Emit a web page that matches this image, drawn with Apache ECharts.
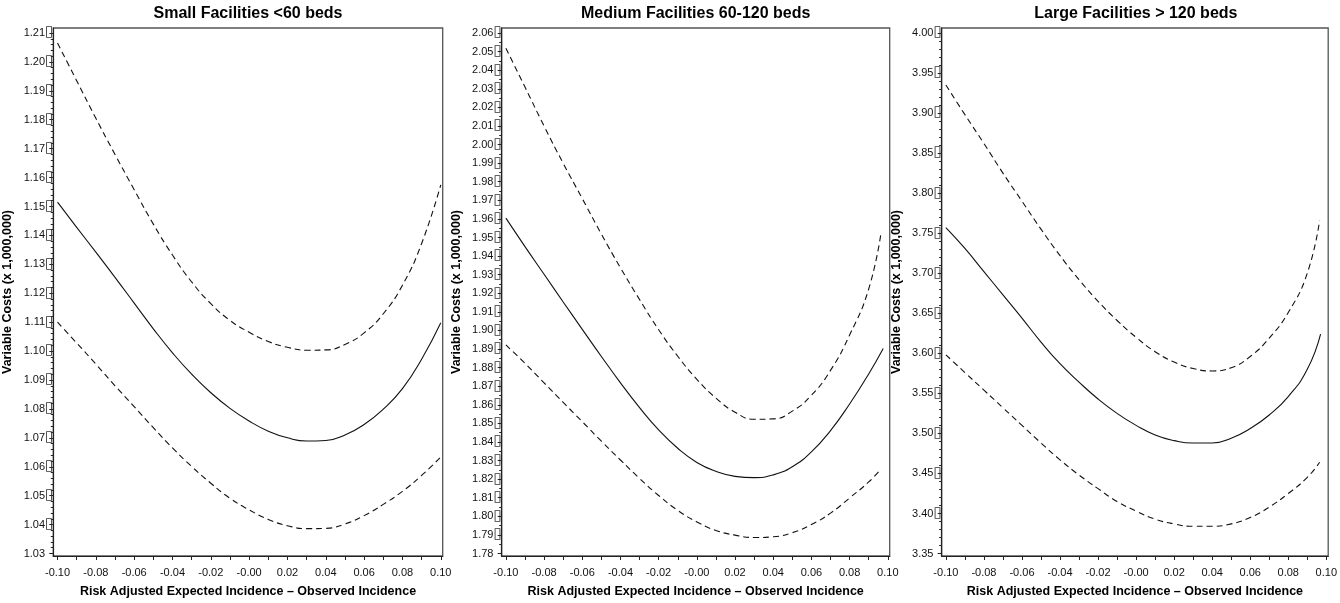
<!DOCTYPE html>
<html><head><meta charset="utf-8">
<script src="https://cdn.jsdelivr.net/npm/echarts@6/dist/echarts.min.js"></script>
<style>html,body{margin:0;padding:0;background:#fff}#c{width:1340px;height:603px}</style>
</head><body><div id="c"></div>
<script>
// ---------- text ----------
const panelTitles = ['Small Facilities <60 beds', 'Medium Facilities 60-120 beds', 'Large Facilities > 120 beds'];
const xAxisTitle = 'Risk Adjusted Expected Incidence \u2013 Observed Incidence';
const yAxisTitle = 'Variable Costs (x 1,000,000)';

// ---------- tick labels ----------
const xTickValues = [-0.10, -0.08, -0.06, -0.04, -0.02, 0.00, 0.02, 0.04, 0.06, 0.08, 0.10];
const xTickLabels = ['-0.10', '-0.08', '-0.06', '-0.04', '-0.02', '-0.00', '0.02', '0.04', '0.06', '0.08', '0.10'];
const yTicksSmall = [1.03, 1.04, 1.05, 1.06, 1.07, 1.08, 1.09, 1.10, 1.11, 1.12, 1.13, 1.14, 1.15, 1.16, 1.17, 1.18, 1.19, 1.20, 1.21];
const yTicksMedium = [1.78, 1.79, 1.80, 1.81, 1.82, 1.83, 1.84, 1.85, 1.86, 1.87, 1.88, 1.89, 1.90, 1.91, 1.92, 1.93, 1.94, 1.95, 1.96, 1.97, 1.98, 1.99, 2.00, 2.01, 2.02, 2.03, 2.04, 2.05, 2.06];
const yTicksLarge = [3.35, 3.40, 3.45, 3.50, 3.55, 3.60, 3.65, 3.70, 3.75, 3.80, 3.85, 3.90, 3.95, 4.00];

// ---------- data: small facilities ----------
const xSmall = [-0.10, -0.09, -0.08, -0.07, -0.06, -0.05, -0.04, -0.03, -0.02, -0.01, 0.00, 0.01, 0.02, 0.03, 0.04, 0.05, 0.06, 0.07, 0.08, 0.09, 0.10];
const smallEst = [1.1515, 1.1428, 1.1342, 1.1255, 1.1166, 1.1077, 1.0994, 1.0920, 1.0856, 1.0802, 1.0758, 1.0723, 1.0700, 1.0689, 1.0691, 1.0710, 1.0746, 1.0799, 1.0870, 1.0972, 1.1098];
const smallUpper = [1.2065, 1.1935, 1.1805, 1.1680, 1.1558, 1.1439, 1.1332, 1.1239, 1.1164, 1.1106, 1.1065, 1.1033, 1.1013, 1.1003, 1.1004, 1.1023, 1.1063, 1.1129, 1.1228, 1.1372, 1.1575];
const smallLower = [1.1100, 1.1028, 1.0955, 1.0880, 1.0808, 1.0735, 1.0665, 1.0601, 1.0543, 1.0491, 1.0451, 1.0418, 1.0396, 1.0386, 1.0387, 1.0402, 1.0431, 1.0470, 1.0515, 1.0570, 1.0634];

// ---------- data: medium facilities ----------
const xMediumEst = [-0.10, -0.09, -0.08, -0.07, -0.06, -0.05, -0.04, -0.03, -0.02, -0.01, 0.00, 0.01, 0.02, 0.03, 0.04, 0.05, 0.06, 0.07, 0.08, 0.09, 0.0976];
const xMediumBand = [-0.10, -0.09, -0.08, -0.07, -0.06, -0.05, -0.04, -0.03, -0.02, -0.01, 0.00, 0.01, 0.02, 0.03, 0.04, 0.05, 0.06, 0.07, 0.08, 0.09, 0.0965];
const mediumEst = [1.9604, 1.9451, 1.9302, 1.9153, 1.9006, 1.8860, 1.8718, 1.8585, 1.8465, 1.8366, 1.8290, 1.8242, 1.8215, 1.8208, 1.8223, 1.8267, 1.8347, 1.8461, 1.8604, 1.8766, 1.8903];
const mediumUpper = [2.0518, 2.0309, 2.0099, 1.9899, 1.9709, 1.9518, 1.9337, 1.9166, 1.9004, 1.8861, 1.8737, 1.8636, 1.8560, 1.8522, 1.8524, 1.8566, 1.8651, 1.8785, 1.8975, 1.9223, 1.9528];
const mediumLower = [1.8922, 1.8823, 1.8718, 1.8613, 1.8509, 1.8404, 1.8303, 1.8204, 1.8112, 1.8032, 1.7970, 1.7924, 1.7899, 1.7886, 1.7890, 1.7912, 1.7956, 1.8017, 1.8099, 1.8185, 1.8255];

// ---------- data: large facilities ----------
const xLargeEst = [-0.10, -0.09, -0.08, -0.07, -0.06, -0.05, -0.04, -0.03, -0.02, -0.01, 0.00, 0.01, 0.02, 0.03, 0.04, 0.05, 0.06, 0.07, 0.08, 0.09, 0.097];
const xLargeBand = [-0.10, -0.09, -0.08, -0.07, -0.06, -0.05, -0.04, -0.03, -0.02, -0.01, 0.00, 0.01, 0.02, 0.03, 0.04, 0.05, 0.06, 0.07, 0.08, 0.09, 0.0965];
const largeEst = [3.757, 3.731, 3.702, 3.673, 3.644, 3.614, 3.587, 3.564, 3.543, 3.525, 3.510, 3.498, 3.491, 3.488, 3.488, 3.494, 3.506, 3.523, 3.546, 3.580, 3.624];
const largeUpper = [3.935, 3.898, 3.862, 3.825, 3.790, 3.755, 3.722, 3.692, 3.665, 3.641, 3.620, 3.602, 3.589, 3.581, 3.578, 3.582, 3.596, 3.619, 3.651, 3.700, 3.766];
const largeLower = [3.598, 3.576, 3.554, 3.532, 3.510, 3.488, 3.467, 3.448, 3.431, 3.415, 3.403, 3.393, 3.387, 3.384, 3.384, 3.387, 3.395, 3.408, 3.425, 3.445, 3.464];

// ---------- layout ----------
const panels = [
  {title: panelTitles[0], left: 53.3, width: 389.4, yMin: 1.02914, yMax: 1.21172, ticks: yTicksSmall, minorSplit: 5,
   series: [[xSmall, smallEst, 'solid'], [xSmall, smallUpper, 'dash'], [xSmall, smallLower, 'dash']]},
  {title: panelTitles[1], left: 501.7, width: 388, yMin: 1.77866, yMax: 2.06268, ticks: yTicksMedium, minorSplit: 2,
   series: [[xMediumEst, mediumEst, 'solid'], [xMediumBand, mediumUpper, 'dash'], [xMediumBand, mediumLower, 'dash']]},
  {title: panelTitles[2], left: 941.7, width: 388.3, yMin: 3.34689, yMax: 4.00623, ticks: yTicksLarge, minorSplit: 5,
   series: [[xLargeEst, largeEst, 'solid'], [xLargeBand, largeUpper, 'dash'], [xLargeBand, largeLower, 'dash']]}
];
const GRID_TOP = 28, GRID_H = 529.5;
const X_MIN = -0.1022, X_MAX = 0.1010;
const BOX = '\u25AF';
const tickFont = "'Liberation Sans Narrow', 'Liberation Sans', Arial, sans-serif";
const boldFont = "'Liberation Sans', Arial, Helvetica, sans-serif";

function minorTicks(major, n) {
  const out = [];
  for (let i = 0; i < major.length - 1; i++) {
    const step = (major[i + 1] - major[i]) / n;
    for (let k = 1; k < n; k++) out.push(+(major[i] + k * step).toFixed(5));
  }
  return out;
}
const xMinor = [-0.09, -0.07, -0.05, -0.03, -0.01, 0.01, 0.03, 0.05, 0.07, 0.09];

const option = {
  animation: false,
  backgroundColor: '#fff',
  title: [], grid: [], xAxis: [], yAxis: [], series: []
};

panels.forEach((p, i) => {
  option.title.push({
    text: p.title, left: p.left + p.width / 2, top: 6, padding: 0, textAlign: 'center',
    textStyle: {fontFamily: boldFont, fontWeight: 'bold', fontSize: 16, color: '#000'}
  });
  option.grid.push({
    left: p.left, top: GRID_TOP, width: p.width, height: GRID_H,
    show: true, borderColor: '#555', borderWidth: 1.3, backgroundColor: 'transparent', containLabel: false
  });
  option.xAxis.push({
    type: 'value', gridIndex: i, min: X_MIN, max: X_MAX,
    name: xAxisTitle, nameLocation: 'middle', nameGap: 29,
    nameTextStyle: {fontFamily: boldFont, fontWeight: 'bold', fontSize: 12.5, color: '#000'},
    axisLine: {show: true, onZero: false, lineStyle: {color: '#222', width: 1.2}},
    axisTick: {show: true, length: 4, lineStyle: {color: '#222'}, customValues: xTickValues.concat(xMinor)},
    axisLabel: {show: true, margin: 11, fontFamily: tickFont, fontSize: 11, color: '#111',
      customValues: xTickValues,
      formatter: v => xTickLabels[Math.round((v - xTickValues[0]) / 0.02)]},
    splitLine: {show: false}
  });
  const bottom = p.ticks[0];
  // major axis with labels
  option.yAxis.push({
    type: 'value', gridIndex: i, min: p.yMin, max: p.yMax, position: 'left',
    name: yAxisTitle, nameLocation: 'middle', nameGap: 39,
    nameTextStyle: {fontFamily: boldFont, fontWeight: 'bold', fontSize: 12.5, color: '#000'},
    axisLine: {show: true, onZero: false, lineStyle: {color: '#222', width: 1.2}},
    axisTick: {show: true, length: 4, lineStyle: {color: '#222'}, customValues: p.ticks},
    axisLabel: {show: true, margin: 0, fontFamily: tickFont, fontSize: 11, color: '#111',
      customValues: p.ticks,
      formatter: v => (Math.abs(v - bottom) < 1e-9) ? v.toFixed(2) + '{h|' + BOX + '}' : v.toFixed(2) + '{b|' + BOX + '}',
      rich: {
        b: {fontFamily: 'DejaVu Sans', fontSize: 15, color: '#333', padding: [0, 0, 1, 0]},
        h: {fontFamily: 'DejaVu Sans', fontSize: 15, color: 'rgba(0,0,0,0)', padding: [0, 0, 1, 0]}
      }},
    splitLine: {show: false}
  });
  // minor tick axis
  option.yAxis.push({
    type: 'value', gridIndex: i, min: p.yMin, max: p.yMax, position: 'left',
    axisLine: {show: false, onZero: false},
    axisTick: {show: true, length: 2.5, lineStyle: {color: '#222'}, customValues: minorTicks(p.ticks, p.minorSplit)},
    axisLabel: {show: false},
    splitLine: {show: false}
  });
  p.series.forEach(([xs, ys, kind]) => {
    option.series.push({
      type: 'line', xAxisIndex: i, yAxisIndex: 2 * i,
      data: xs.map((x, k) => [x, ys[k]]),
      showSymbol: false, smooth: 0.5, silent: true,
      lineStyle: {color: '#111', width: 1.1, type: kind === 'solid' ? 'solid' : [6, 4]}
    });
  });
});

const chart = echarts.init(document.getElementById('c'), null, {renderer: 'canvas'});
chart.setOption(option);
</script>
</body></html>
